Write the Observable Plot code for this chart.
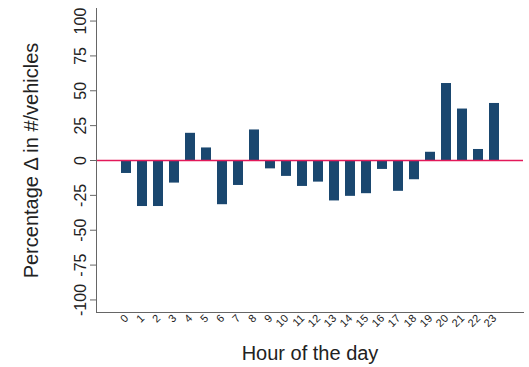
<!DOCTYPE html>
<html><head><meta charset="utf-8">
<script src="https://cdn.jsdelivr.net/npm/d3@7"></script>
<script src="https://cdn.jsdelivr.net/npm/@observablehq/plot@0.6"></script>
<style>body{margin:0;background:#fff;} svg{display:block;}</style>
</head><body><div id="chart"></div>
<script>
const hours = ["0","1","2","3","4","5","6","7","8","9","10","11","12","13","14","15","16","17","18","19","20","21","22","23"];
const values = [-9.3, -33, -33, -16.2, 19.5, 9, -31.7, -17.9, 21.9, -6, -11.4, -18.6, -15.5, -29, -25.7, -23.8, -6.4, -22.1, -13.8, 5.9, 55.2, 36.9, 7.9, 40.9];
const yTicks = [-100, -75, -50, -25, 0, 25, 50, 75, 100];
const yTitle = "Percentage Δ in #/vehicles";
const xTitle = "Hour of the day";

const data = hours.map((h, i) => ({hour: h, value: values[i]}));

const chart = Plot.plot({
  width: 529,
  height: 367,
  marginLeft: 96,
  marginRight: 6,
  marginTop: 8,
  marginBottom: 55,
  style: {fontFamily: "'Liberation Sans', Arial, sans-serif", color: "#222", background: "#fff"},
  x: {domain: hours, type: "band", paddingInner: 0.4, paddingOuter: 0.83},
  y: {domain: [-109, 109]},
  marks: [
    Plot.barY(data, {x: "hour", y: "value", fill: "#1a476f"}),
    Plot.ruleY([0], {stroke: "#e3195a", strokeWidth: 1.5}),
    Plot.frame({anchor: "left", stroke: "#666"}),
    Plot.frame({anchor: "bottom", stroke: "#666"}),
    Plot.axisY(yTicks, {tickRotate: -90, tickSize: 6, tickPadding: 5, fontSize: 16, stroke: "#666", tickFormat: d => String(d), label: null}),
    Plot.axisY({ticks: [], label: yTitle, labelAnchor: "center", labelArrow: "none", labelOffset: 73, fontSize: 20}),
    Plot.axisX({tickRotate: -45, tickSize: 0, tickPadding: 4, fontSize: 11, label: null}),
    Plot.axisX({ticks: [], label: xTitle, labelAnchor: "center", labelArrow: "none", labelOffset: 47, fontSize: 20})
  ]
});
document.getElementById("chart").appendChild(chart);
</script>
</body></html>
